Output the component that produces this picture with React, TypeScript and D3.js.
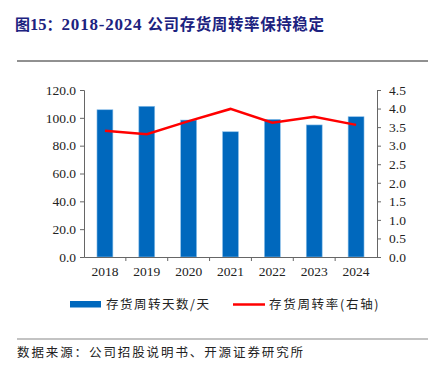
import React, { useRef, useEffect } from 'react';
import * as d3 from 'd3';

const years = ['2018', '2019', '2020', '2021', '2022', '2023', '2024'];
const turnoverDays = [105.8, 108.3, 98.4, 90.0, 98.9, 94.9, 100.8];
const turnoverRate = [3.40, 3.31, 3.66, 3.99, 3.62, 3.78, 3.56];
const leftTicks = [0, 20, 40, 60, 80, 100, 120];
const rightTicks = [0, 0.5, 1, 1.5, 2, 2.5, 3, 3.5, 4, 4.5];

const W = 435;
const H = 366;
const serif = '"Liberation Serif", "Times New Roman", "Noto Sans CJK SC", serif';
const cjk = '"Noto Sans CJK SC", sans-serif';

const App = () => {
    const svgRef = useRef<SVGSVGElement>(null);

    useEffect(() => {
        const svg = d3.select(svgRef.current);
        svg.selectAll('*').remove();

        const left = 84, right = 377, top = 90, bottom = 257;

        const x = d3.scaleBand().domain(years).range([left, right]).paddingInner(0.62).paddingOuter(0.31);
        const yL = d3.scaleLinear().domain([0, 120]).range([bottom, top]);
        const yR = d3.scaleLinear().domain([0, 4.5]).range([bottom, top]);

        // title, three pieces so the cjk and the digits get their own fonts
        const title = svg.append('text')
            .attr('x', 15).attr('y', 30)
            .attr('font-weight', 'bold')
            .attr('fill', '#1c2280');
        title.append('tspan').attr('font-family', cjk).attr('font-size', 15).text('图');
        title.append('tspan').attr('font-family', serif).attr('font-size', 16.5).text('15');
        title.append('tspan').attr('font-family', cjk).attr('font-size', 15).text('：');
        title.append('tspan').attr('font-family', serif).attr('font-size', 17)
            .attr('letter-spacing', 0.8).text('2018-2024 ');
        title.append('tspan').attr('font-family', cjk).attr('font-size', 15.5)
            .attr('letter-spacing', 0.6).text('公司存货周转率保持稳定');

        svg.append('line')
            .attr('x1', 17).attr('x2', 428).attr('y1', 61).attr('y2', 61)
            .attr('stroke', '#222').attr('stroke-width', 1);

        // bars
        svg.append('g').selectAll('rect')
            .data(turnoverDays)
            .join('rect')
            .attr('x', (d, i) => x(years[i])!)
            .attr('width', x.bandwidth())
            .attr('y', (d) => yL(d))
            .attr('height', (d) => bottom - yL(d))
            .attr('fill', '#0068bd')
            .attr('stroke', '#8cc0ea')
            .attr('stroke-width', 0.6);

        // line
        const line = d3.line<number>()
            .x((d, i) => x(years[i])! + x.bandwidth() / 2)
            .y((d) => yR(d));
        svg.append('path')
            .datum(turnoverRate)
            .attr('d', line)
            .attr('fill', 'none')
            .attr('stroke', '#ff0000')
            .attr('stroke-width', 2.5);

        const axisColor = '#666';

        const gl = svg.append('g').attr('transform', `translate(${left},0)`)
            .call(d3.axisLeft(yL).tickValues(leftTicks).tickSize(4).tickPadding(4).tickFormat(d3.format('.1f')));
        const gr = svg.append('g').attr('transform', `translate(${right},0)`)
            .call(d3.axisRight(yR).tickValues(rightTicks).tickSize(4).tickPadding(8).tickFormat(d3.format('.1f')));
        const gb = svg.append('g').attr('transform', `translate(0,${bottom})`)
            .call(d3.axisBottom(x).tickSize(0).tickPadding(9));
        const step = x.step();
        gb.selectAll('.sep')
            .data(d3.range(1, years.length))
            .join('line')
            .attr('x1', (d) => left + d * step).attr('x2', (d) => left + d * step)
            .attr('y1', 0).attr('y2', 4)
            .attr('stroke', axisColor);

        [gl, gr, gb].forEach((g) => {
            g.select('.domain').attr('stroke', axisColor);
            g.selectAll('.tick line').attr('stroke', axisColor);
            g.selectAll('text')
                .attr('font-family', serif)
                .attr('font-size', 13.5)
                .attr('fill', '#222');
        });

        // legend
        svg.append('rect')
            .attr('x', 70).attr('y', 301).attr('width', 31).attr('height', 6.5)
            .attr('fill', '#0068bd');
        svg.append('text')
            .attr('x', 106).attr('y', 309)
            .attr('font-family', cjk).attr('font-size', 12.5).attr('letter-spacing', 1.5)
            .attr('fill', '#222')
            .text('存货周转天数/天');
        svg.append('line')
            .attr('x1', 233).attr('x2', 265).attr('y1', 304.5).attr('y2', 304.5)
            .attr('stroke', '#ff0000').attr('stroke-width', 2.5);
        svg.append('text')
            .attr('x', 269).attr('y', 309)
            .attr('font-family', cjk).attr('font-size', 12.5).attr('letter-spacing', 1.7)
            .attr('fill', '#222')
            .text('存货周转率(右轴)');

        // source
        svg.append('line')
            .attr('x1', 17).attr('x2', 428).attr('y1', 339).attr('y2', 339)
            .attr('stroke', '#888').attr('stroke-width', 1.2);
        svg.append('text')
            .attr('x', 17).attr('y', 357)
            .attr('font-family', cjk).attr('font-size', 12.5).attr('letter-spacing', 1.9)
            .attr('fill', '#222')
            .text('数据来源：公司招股说明书、开源证券研究所');
    }, []);

    return (
        <svg
            ref={svgRef}
            width={W}
            height={H}
            style={{ position: 'absolute', left: 0, top: 0, background: '#fff' }}
        ></svg>
    );
};

export default App;
